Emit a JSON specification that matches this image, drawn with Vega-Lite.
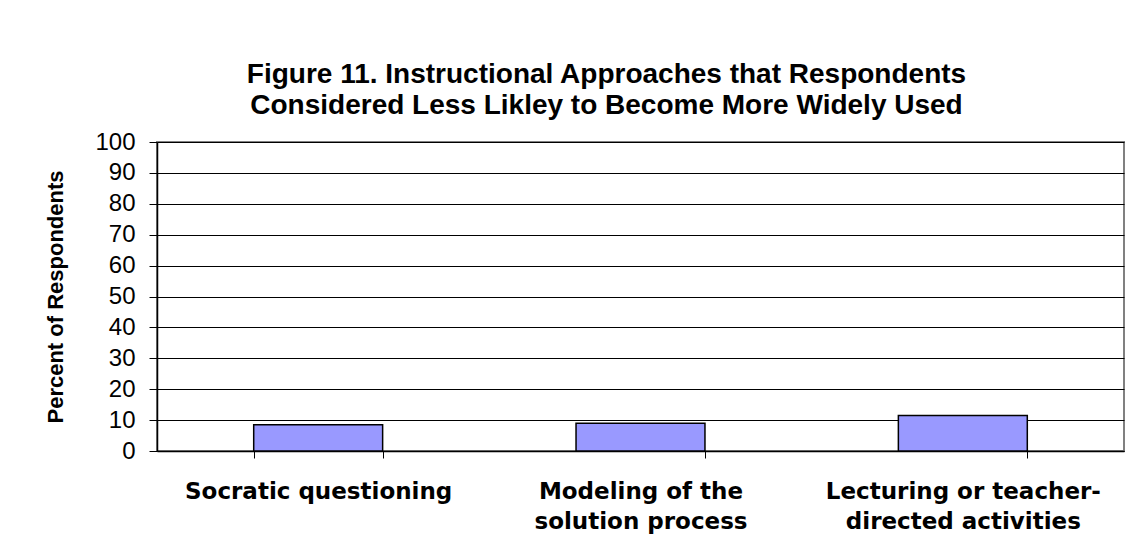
{
  "$schema": "https://vega.github.io/schema/vega-lite/v6.json",
  "autosize": {"type": "none"},
  "width": 967,
  "height": 309,
  "padding": {"left": 157, "top": 142, "right": 10, "bottom": 94},
  "background": "white",
  "title": {
    "text": ["Figure 11. Instructional Approaches that Respondents", "Considered Less Likley to Become More Widely Used"],
    "font": "Liberation Sans",
    "fontSize": 28,
    "fontWeight": "bold",
    "color": "black",
    "lineHeight": 31,
    "anchor": "middle",
    "dx": -34,
    "offset": 10
  },
  "config": {
    "view": {"stroke": "#808080", "strokeWidth": 2},
    "axis": {"labelFont": "Liberation Sans", "titleFont": "Liberation Sans", "labelColor": "black", "titleColor": "black", "domainColor": "black", "tickColor": "black"}
  },
  "data": {
    "values": [
      {"approach": "Socratic questioning", "percent": 8.5},
      {"approach": "Modeling of the solution process", "percent": 9},
      {"approach": "Lecturing or teacher-directed activities", "percent": 11.5}
    ]
  },
  "mark": {"type": "bar", "fill": "#9999FF", "stroke": "black", "strokeWidth": 1.5},
  "encoding": {
    "x": {
      "field": "approach",
      "type": "nominal",
      "sort": null,
      "scale": {"paddingInner": 0.6, "paddingOuter": 0.3},
      "axis": {
        "title": null,
        "labelAngle": 0,
        "labelFont": "DejaVu Sans",
        "labelFontSize": 23,
        "labelFontWeight": "bold",
        "labelLineHeight": 30,
        "labelPadding": 22,
        "labelBaseline": "top",
        "labelLimit": 0,
        "tickBand": "extent",
        "tickSize": 7,
        "tickWidth": 1,
        "domainWidth": 1.5,
        "labelExpr": "datum.label == 'Modeling of the solution process' ? ['Modeling of the', 'solution process'] : (datum.label == 'Lecturing or teacher-directed activities' ? ['Lecturing or teacher-', 'directed activities'] : datum.label)"
      }
    },
    "y": {
      "field": "percent",
      "type": "quantitative",
      "scale": {"domain": [0, 100], "nice": false},
      "axis": {
        "title": "Percent of Respondents",
        "titleFontSize": 22,
        "titleFontWeight": "bold",
        "titlePadding": 27,
        "values": [0, 10, 20, 30, 40, 50, 60, 70, 80, 90, 100],
        "labelFontSize": 24,
        "labelPadding": 14,
        "tickSize": 8,
        "grid": true,
        "gridColor": "black",
        "gridWidth": 1,
        "gridOpacity": 1,
        "domainWidth": 1.5
      }
    }
  }
}
